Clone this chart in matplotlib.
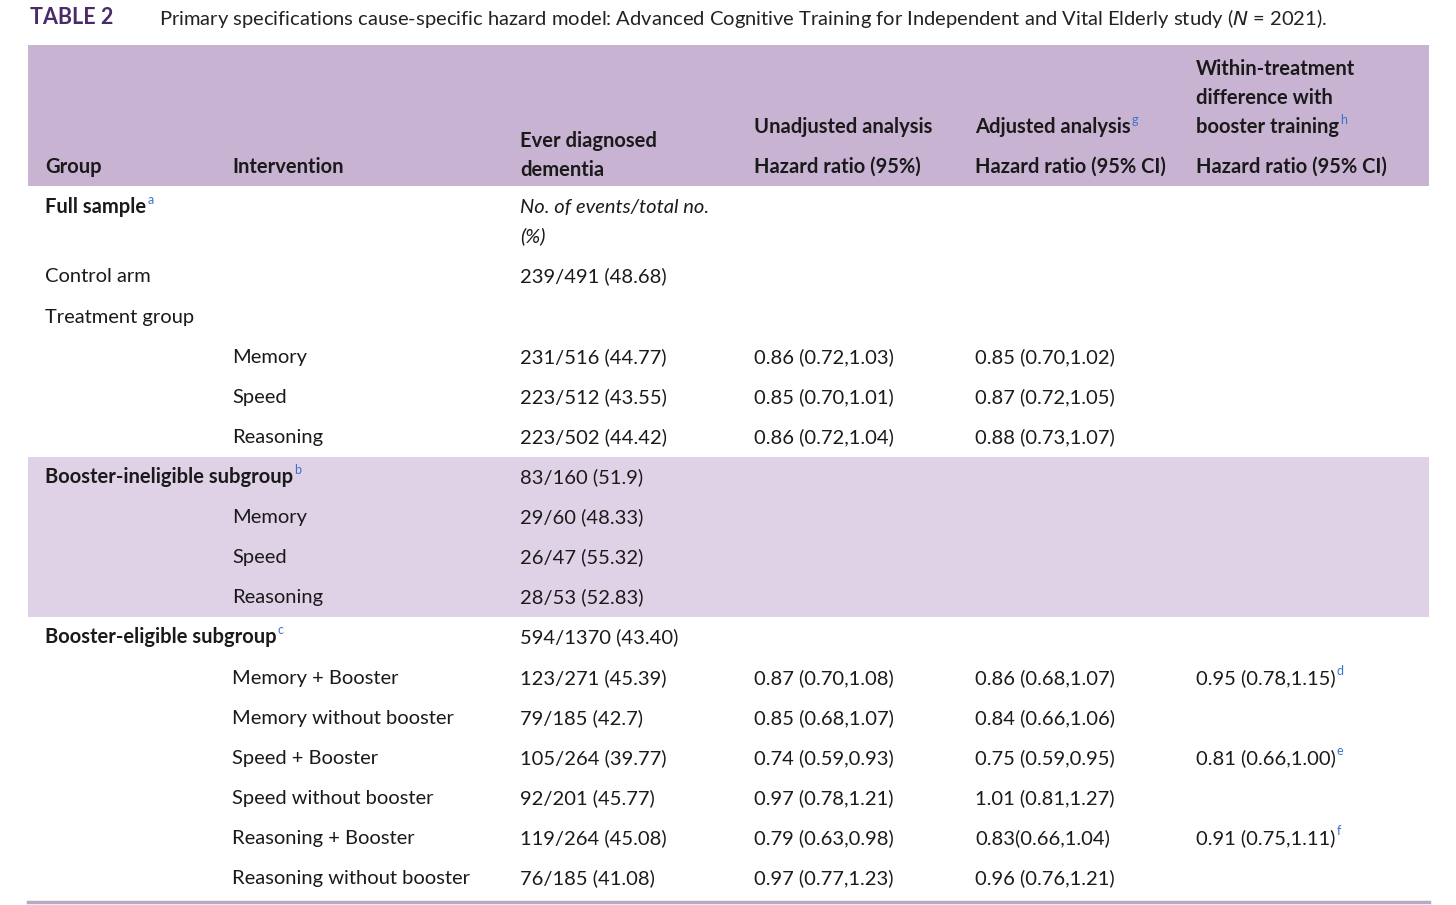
import matplotlib
matplotlib.use("Agg")
import matplotlib.pyplot as plt
from matplotlib.patches import Rectangle

plt.rcParams['font.family'] = ['Lato', 'DejaVu Sans']

title_label = "TABLE 2"
title_text = "Primary specifications cause-specific hazard model: Advanced Cognitive Training for Independent and Vital Elderly study ($\\it{N}$ = 2021)."

groups = ["Full sample", "", "Control arm", "Treatment group", "", "", "",
          "Booster-ineligible subgroup", "", "", "",
          "Booster-eligible subgroup", "", "", "", "", "", ""]
group_sup = ["a", "", "", "", "", "", "", "b", "", "", "", "c", "", "", "", "", "", ""]
group_bold = [True, False, False, False, False, False, False, True, False, False, False, True, False, False, False, False, False, False]
interventions = ["", "", "", "", "Memory", "Speed", "Reasoning", "", "Memory", "Speed", "Reasoning", "",
                 "Memory + Booster", "Memory without booster", "Speed + Booster", "Speed without booster",
                 "Reasoning + Booster", "Reasoning without booster"]
events = ["No. of events/total no.", "(%)", "239/491 (48.68)", "", "231/516 (44.77)", "223/512 (43.55)",
          "223/502 (44.42)", "83/160 (51.9)", "29/60 (48.33)", "26/47 (55.32)", "28/53 (52.83)",
          "594/1370 (43.40)", "123/271 (45.39)", "79/185 (42.7)", "105/264 (39.77)", "92/201 (45.77)",
          "119/264 (45.08)", "76/185 (41.08)"]
unadjusted = ["", "", "", "", "0.86 (0.72,1.03)", "0.85 (0.70,1.01)", "0.86 (0.72,1.04)", "", "", "", "", "",
              "0.87 (0.70,1.08)", "0.85 (0.68,1.07)", "0.74 (0.59,0.93)", "0.97 (0.78,1.21)",
              "0.79 (0.63,0.98)", "0.97 (0.77,1.23)"]
adjusted = ["", "", "", "", "0.85 (0.70,1.02)", "0.87 (0.72,1.05)", "0.88 (0.73,1.07)", "", "", "", "", "",
            "0.86 (0.68,1.07)", "0.84 (0.66,1.06)", "0.75 (0.59,0.95)", "1.01 (0.81,1.27)",
            "0.83(0.66,1.04)", "0.96 (0.76,1.21)"]
within = ["", "", "", "", "", "", "", "", "", "", "", "", "0.95 (0.78,1.15)", "", "0.81 (0.66,1.00)", "",
          "0.91 (0.75,1.11)", ""]
within_sup = ["", "", "", "", "", "", "", "", "", "", "", "", "d", "", "e", "", "f", ""]

row_y = [207, 236, 276, 317, 357, 397, 437, 477, 517, 557, 597, 637, 678, 718, 758, 798, 838, 878]
col_x = [45, 232, 520, 754, 975, 1196]

HEAD = "#c9b3d3"
BAND = "#dfd1e6"
PURPLE = "#4a2a6b"
SUPC = "#3a73c9"
FS = 14.5

fig = plt.figure(figsize=(14.56, 9.05), dpi=100)
ax = fig.add_axes([0, 0, 1, 1])
ax.set_xlim(0, 1456)
ax.set_ylim(905, 0)
ax.axis('off')

ax.add_patch(Rectangle((28, 45), 1401, 141, color=HEAD, lw=0))
ax.add_patch(Rectangle((28, 457), 1401, 160, color=BAND, lw=0))
ax.plot([28, 1429], [902, 902], color="#b9a9c3", lw=2.5)

ax.text(30, 18, title_label, fontsize=15.5, fontweight='bold', color=PURPLE, va='center')
ax.text(159, 18, title_text, fontsize=14.5, color="#222222", va='center')

renderer = fig.canvas.get_renderer()

def put(x, y, s, sup="", bold=False, italic=False):
    t = ax.text(x, y, s, fontsize=FS, fontweight='bold' if bold else 'normal',
                fontstyle='italic' if italic else 'normal', color="#1a1a1a", va='center')
    if sup:
        bb = t.get_window_extent(renderer)
        ax.text(x + bb.width + 1, y - 7, sup, fontsize=9, color=SUPC, va='center')

# header
hdr = [(col_x[0], 167, "Group", ""), (col_x[1], 167, "Intervention", ""),
       (col_x[2], 141, "Ever diagnosed", ""), (col_x[2], 170, "dementia", ""),
       (col_x[3], 127, "Unadjusted analysis", ""), (col_x[3], 167, "Hazard ratio (95%)", ""),
       (col_x[4], 127, "Adjusted analysis", "g"), (col_x[4], 167, "Hazard ratio (95% CI)", ""),
       (col_x[5], 69, "Within-treatment", ""), (col_x[5], 98, "difference with", ""),
       (col_x[5], 127, "booster training", "h"), (col_x[5], 167, "Hazard ratio (95% CI)", "")]
for x, y, s, sp in hdr:
    put(x, y, s, sp, bold=True)

for i, y in enumerate(row_y):
    if groups[i]:
        put(col_x[0], y, groups[i], group_sup[i], bold=group_bold[i])
    if interventions[i]:
        put(col_x[1], y, interventions[i])
    if events[i]:
        put(col_x[2], y, events[i], italic=(i < 2))
    if unadjusted[i]:
        put(col_x[3], y, unadjusted[i])
    if adjusted[i]:
        put(col_x[4], y, adjusted[i])
    if within[i]:
        put(col_x[5], y, within[i], within_sup[i])

fig.savefig("out.png", dpi=100)
